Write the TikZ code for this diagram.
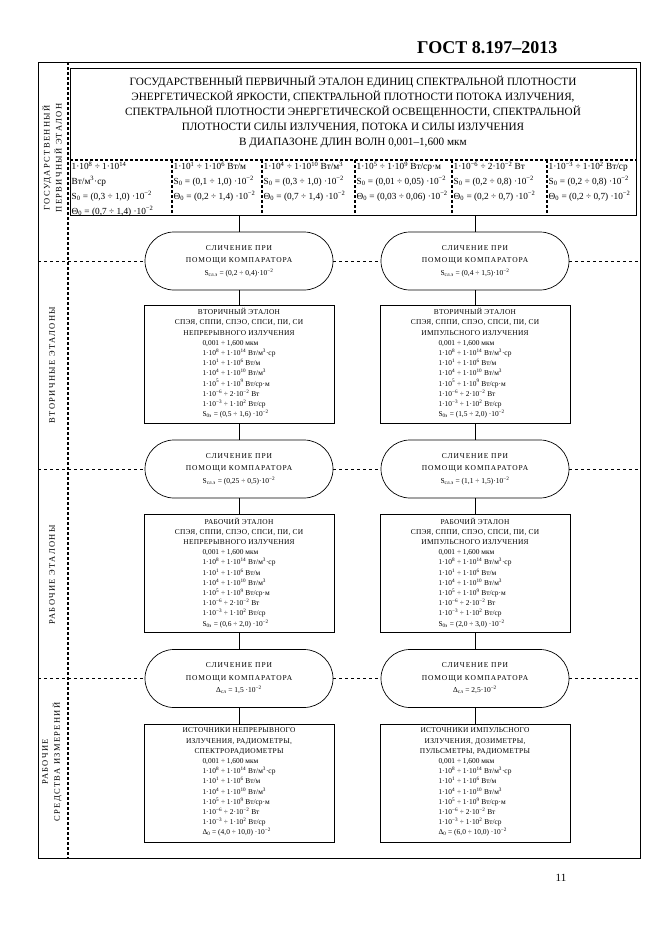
\documentclass[tikz,border=0pt]{standalone}
\usepackage{fontspec}
\setmainfont{Liberation Serif}
\newfontfamily\wide[LetterSpace=12]{Liberation Serif}
\newfontfamily\hdr[LetterSpace=4]{Liberation Serif}
\newfontfamily\wider[LetterSpace=16]{Liberation Serif}
\usetikzlibrary{shapes.misc}
\newcommand\tp[1]{\textsuperscript{#1}}
\newcommand\tb[1]{\textsubscript{#1}}
% ranges repeated in every standard box
\newcommand\rng{0,001 ÷ 1,600 мкм\\
  1·10\tp{8} ÷ 1·10\tp{14} Вт/м\tp{3}·ср\\
  1·10\tp{1} ÷ 1·10\tp{6}  Вт/м\\
  1·10\tp{4} ÷ 1·10\tp{10} Вт/м\tp{3}\\
  1·10\tp{5} ÷ 1·10\tp{9}  Вт/ср·м\\
  1·10\tp{−6} ÷ 2·10\tp{−2} Вт\\
  1·10\tp{−3} ÷ 1·10\tp{2}  Вт/ср}

\begin{document}
\begin{tikzpicture}[x=1pt, y=-1pt,
    cmp/.style={draw, rounded rectangle, fill=white, line width=0.7pt, minimum width=190pt, minimum height=58pt, inner sep=1pt, align=center, font=\fontsize{7.5}{12.5}\selectfont},
    etl/.style={draw, fill=white, line width=0.8pt, minimum width=190pt, minimum height=118pt, inner sep=2pt, align=center, font=\fontsize{7.4}{10.2}\selectfont},
    cell/.style={anchor=north west, inner sep=1.5pt, align=left, font=\fontsize{9.3}{14.8}\selectfont},
    sep/.style={dashed, line width=0.9pt},
    col/.style={line width=1.4pt, dash pattern=on 3pt off 2pt},
    lbl/.style={rotate=90, align=center, font=\wider\fontsize{8.5}{12}\selectfont}]
    \useasboundingbox (0,0) rectangle (661,935);

    \node[anchor=east, font=\bfseries\fontsize{18}{20}\selectfont] (gost) at (561,48) {ГОСТ 8.197–2013};
    \coordinate (fnw) at (38,62);
    \coordinate (fse) at (640,858);
    \draw[line width=0.8pt] (fnw) rectangle (fse);
    \draw[col] (68,62) -- (68,858);

    % primary standard
    \node[draw, line width=0.8pt, anchor=north west, minimum width=566pt, minimum height=147pt] (prim) at (70,68) {};
    \node[align=center, font=\fontsize{11.2}{15}\selectfont] (primtitle) at (353,112) {ГОСУДАРСТВЕННЫЙ ПЕРВИЧНЫЙ ЭТАЛОН ЕДИНИЦ СПЕКТРАЛЬНОЙ ПЛОТНОСТИ\\
      ЭНЕРГЕТИЧЕСКОЙ ЯРКОСТИ, СПЕКТРАЛЬНОЙ ПЛОТНОСТИ ПОТОКА ИЗЛУЧЕНИЯ,\\
      СПЕКТРАЛЬНОЙ ПЛОТНОСТИ ЭНЕРГЕТИЧЕСКОЙ ОСВЕЩЕННОСТИ, СПЕКТРАЛЬНОЙ\\
      ПЛОТНОСТИ СИЛЫ ИЗЛУЧЕНИЯ, ПОТОКА И СИЛЫ ИЗЛУЧЕНИЯ\\
      В ДИАПАЗОНЕ ДЛИН ВОЛН 0,001–1,600 мкм};
    \draw[col] (prim.west |- 0,160) -- (prim.east |- 0,160);
    \foreach \x in {172,262,355,452,547}
      \draw[col] (\x,160) -- (\x,215);
    \begin{scope}
      \clip (70,160) rectangle (172,215);
      \node[cell] (c1) at (70,160) {1·10\tp{8} ÷ 1·10\tp{14}\\ Вт/м\tp{3}·ср\\ S\tb{0} = (0,3 ÷ 1,0) ·10\tp{−2}\\ Θ\tb{0} = (0,7 ÷ 1,4) ·10\tp{−2}};
    \end{scope}
    \node[cell] (c2) at (172,160) {1·10\tp{1} ÷ 1·10\tp{6}  Вт/м\\ S\tb{0} = (0,1 ÷ 1,0) ·10\tp{−2}\\ Θ\tb{0} = (0,2 ÷ 1,4) ·10\tp{−2}};
    \node[cell] (c3) at (262,160) {1·10\tp{4} ÷ 1·10\tp{10}  Вт/м\tp{3}\\ S\tb{0} = (0,3 ÷ 1,0) ·10\tp{−2}\\ Θ\tb{0} = (0,7 ÷ 1,4) ·10\tp{−2}};
    \node[cell] (c4) at (355,160) {1·10\tp{5} ÷ 1·10\tp{9}  Вт/ср·м\\ S\tb{0} = (0,01 ÷ 0,05) ·10\tp{−2}\\ Θ\tb{0} = (0,03 ÷ 0,06) ·10\tp{−2}};
    \node[cell] (c5) at (452,160) {1·10\tp{−6} ÷ 2·10\tp{−2}  Вт\\ S\tb{0} = (0,2 ÷ 0,8) ·10\tp{−2}\\ Θ\tb{0} = (0,2 ÷ 0,7) ·10\tp{−2}};
    \node[cell] (c6) at (547,160) {1·10\tp{−3} ÷ 1·10\tp{2}  Вт/ср\\ S\tb{0} = (0,2 ÷ 0,8) ·10\tp{−2}\\ Θ\tb{0} = (0,2 ÷ 0,7) ·10\tp{−2}};

    % comparators
    \node[cmp] (sl1) at (239,261) {\wide СЛИЧЕНИЕ ПРИ\\ \wide ПОМОЩИ КОМПАРАТОРА\\ S\tb{сл.э} = (0,2 ÷ 0,4)·10\tp{−2}};
    \node[cmp] (sr1) at (475,261) {\wide СЛИЧЕНИЕ ПРИ\\ \wide ПОМОЩИ КОМПАРАТОРА\\ S\tb{сл.э} = (0,4 ÷ 1,5)·10\tp{−2}};
    \node[cmp] (sl2) at (239,469) {\wide СЛИЧЕНИЕ ПРИ\\ \wide ПОМОЩИ КОМПАРАТОРА\\ S\tb{сл.э} = (0,25 ÷ 0,5)·10\tp{−2}};
    \node[cmp] (sr2) at (475,469) {\wide СЛИЧЕНИЕ ПРИ\\ \wide ПОМОЩИ КОМПАРАТОРА\\ S\tb{сл.э} = (1,1 ÷ 1,5)·10\tp{−2}};
    \node[cmp] (sl3) at (239,678.5) {\wide СЛИЧЕНИЕ ПРИ\\ \wide ПОМОЩИ КОМПАРАТОРА\\ Δ\tb{сл} = 1,5 ·10\tp{−2}};
    \node[cmp] (sr3) at (475,678.5) {\wide СЛИЧЕНИЕ ПРИ\\ \wide ПОМОЩИ КОМПАРАТОРА\\ Δ\tb{сл} = 2,5·10\tp{−2}};

    % secondary, working standards, measuring instruments
    \node[etl] (el2) at (239,364) {\hdr ВТОРИЧНЫЙ ЭТАЛОН\\ \hdr СПЭЯ, СППИ, СПЭО, СПСИ, ПИ, СИ\\ \hdr НЕПРЕРЫВНОГО ИЗЛУЧЕНИЯ\\
      \begin{tabular}[t]{@{}l@{}}\rng\\ S\tb{0э} = (0,5 ÷ 1,6) ·10\tp{−2}\end{tabular}};
    \node[etl] (er2) at (475,364) {\hdr ВТОРИЧНЫЙ ЭТАЛОН\\ \hdr СПЭЯ, СППИ, СПЭО, СПСИ, ПИ, СИ\\ \hdr ИМПУЛЬСНОГО ИЗЛУЧЕНИЯ\\
      \begin{tabular}[t]{@{}l@{}}\rng\\ S\tb{0э} = (1,5 ÷ 2,0) ·10\tp{−2}\end{tabular}};
    \node[etl] (el3) at (239,573.5) {\hdr РАБОЧИЙ ЭТАЛОН\\ \hdr СПЭЯ, СППИ, СПЭО, СПСИ, ПИ, СИ\\ \hdr НЕПРЕРЫВНОГО ИЗЛУЧЕНИЯ\\
      \begin{tabular}[t]{@{}l@{}}\rng\\ S\tb{0э} = (0,6 ÷ 2,0) ·10\tp{−2}\end{tabular}};
    \node[etl] (er3) at (475,573.5) {\hdr РАБОЧИЙ ЭТАЛОН\\ \hdr СПЭЯ, СППИ, СПЭО, СПСИ, ПИ, СИ\\ \hdr ИМПУЛЬСНОГО ИЗЛУЧЕНИЯ\\
      \begin{tabular}[t]{@{}l@{}}\rng\\ S\tb{0э} = (2,0 ÷ 3,0) ·10\tp{−2}\end{tabular}};
    \node[etl] (el4) at (239,783) {\hdr ИСТОЧНИКИ НЕПРЕРЫВНОГО\\ \hdr ИЗЛУЧЕНИЯ, РАДИОМЕТРЫ,\\ \hdr СПЕКТРОРАДИОМЕТРЫ\\
      \begin{tabular}[t]{@{}l@{}}\rng\\ Δ\tb{0} = (4,0 ÷ 10,0) ·10\tp{−2}\end{tabular}};
    \node[etl] (er4) at (475,783) {\hdr ИСТОЧНИКИ ИМПУЛЬСНОГО\\ \hdr ИЗЛУЧЕНИЯ, ДОЗИМЕТРЫ,\\ \hdr ПУЛЬСМЕТРЫ, РАДИОМЕТРЫ\\
      \begin{tabular}[t]{@{}l@{}}\rng\\ Δ\tb{0} = (6,0 ÷ 10,0) ·10\tp{−2}\end{tabular}};

    \foreach \s in {l,r} {
      \draw (s\s1.north |- prim.south) -- (s\s1.north);
      \draw (s\s1.south) -- (e\s2.north);
      \draw (e\s2.south) -- (s\s2.north);
      \draw (s\s2.south) -- (e\s3.north);
      \draw (e\s3.south) -- (s\s3.north);
      \draw (s\s3.south) -- (e\s4.north);
    }
    \foreach \n in {1,2,3}
      \draw[sep] (fnw |- sl\n) -- (sl\n.west) (sl\n.east) -- (sr\n.west) (sr\n.east) -- (fse |- sr\n);

    % left column
    \node[lbl] (lab1) at (52,158) {ГОСУДАРСТВЕННЫЙ\\ ПЕРВИЧНЫЙ ЭТАЛОН};
    \node[lbl] (lab2) at (52,365) {ВТОРИЧНЫЕ ЭТАЛОНЫ};
    \node[lbl] (lab3) at (52,575) {РАБОЧИЕ ЭТАЛОНЫ};
    \node[lbl] (lab4) at (52,762) {РАБОЧИЕ\\ СРЕДСТВА ИЗМЕРЕНИЙ};

    \node[font=\fontsize{11}{13}\selectfont] (pnum) at (561,878) {11};
  \end{tikzpicture}
\end{document}
